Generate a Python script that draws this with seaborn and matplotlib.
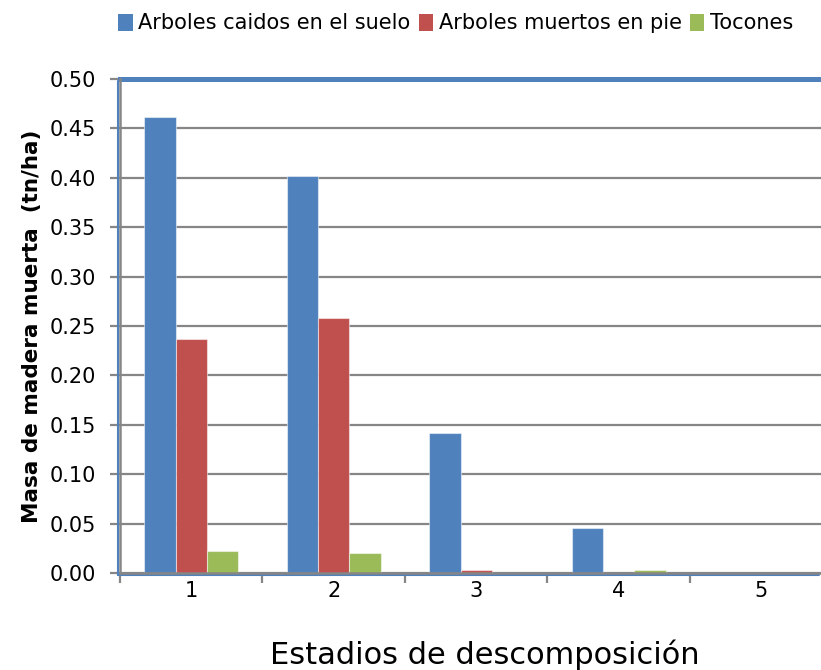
import matplotlib
matplotlib.use("Agg")
import matplotlib.pyplot as plt
import matplotlib.transforms as mtransforms
from matplotlib.patches import Patch
import seaborn as sns
import pandas as pd
import numpy as np

# data
estadios = ["1", "2", "3", "4", "5"]
caidos = [0.462, 0.402, 0.142, 0.046, 0.0]
en_pie = [0.237, 0.258, 0.003, 0.0, 0.0]
tocones = [0.022, 0.020, 0.0, 0.003, 0.0]
series = ["Arboles caidos en el suelo", "Arboles muertos en pie", "Tocones"]
colores = ["#4F81BD", "#C0504D", "#9BBB59"]
yticks = [0.00, 0.05, 0.10, 0.15, 0.20, 0.25, 0.30, 0.35, 0.40, 0.45, 0.50]

df = pd.DataFrame({
    "estadio": estadios * 3,
    "serie": [series[0]] * 5 + [series[1]] * 5 + [series[2]] * 5,
    "masa": caidos + en_pie + tocones,
})

sns.set_style("white")
plt.rcParams["font.family"] = ["DejaVu Sans"]
plt.rcParams["text.color"] = "black"
plt.rcParams["axes.labelcolor"] = "black"
plt.rcParams["xtick.labelcolor"] = "black"
plt.rcParams["ytick.labelcolor"] = "black"

grid_gray = "#868686"
azul = "#4F81BD"

fig = plt.figure(figsize=(8.21, 6.70), dpi=100)
ax = fig.add_axes([120 / 821, 97 / 670, 701 / 821, 494 / 670])

sns.barplot(data=df, x="estadio", y="masa", hue="serie", order=estadios,
            hue_order=series, palette=colores, saturation=1, width=0.66, gap=0,
            edgecolor=(1, 1, 1, 0.5), linewidth=0.8, legend=False, ax=ax,
            zorder=3)

ax.set_yticks(yticks)
ax.set_yticklabels([f"{v:.2f}" for v in yticks], fontsize=15)
ax.yaxis.grid(True, color=grid_gray, linewidth=1.6, zorder=0)
ax.set_axisbelow(True)

# ticks at category boundaries, labels at centres
ax.set_xticks(np.arange(-0.5, 4, 1))
ax.set_xticklabels([])
ax.set_xticks(np.arange(5), minor=True)
ax.set_xticklabels(estadios, minor=True, fontsize=15)
ax.tick_params(axis="x", which="minor", length=0, pad=6)
ax.tick_params(axis="x", which="major", length=7, width=1.6, color=grid_gray,
               direction="out", bottom=True)
ax.tick_params(axis="y", length=7, width=1.6, color=grid_gray,
               direction="out", left=True, pad=10)
ax.set_ylim(0, 0.5)
ax.set_xlim(-0.5, 4.42)

for s in ["left", "bottom"]:
    ax.spines[s].set_color(grid_gray)
    ax.spines[s].set_linewidth(1.8)
    ax.spines[s].set_zorder(5)
ax.spines["right"].set_visible(False)
ax.spines["top"].set_color(azul)
ax.spines["top"].set_linewidth(3.6)

# blue plot-area border just outside the gray axes
off = mtransforms.offset_copy(ax.transAxes, fig=fig, x=-2, y=-2, units="dots")
ax.plot([0, 0], [0, 1], color=azul, lw=1.5, transform=off, clip_on=False, zorder=4)
ax.plot([0, 1], [0, 0], color=azul, lw=1.5, transform=off, clip_on=False, zorder=4)

ax.set_xlabel("Estadios de descomposición", fontsize=22)
ax.xaxis.set_label_coords(0.52, -0.135)
ax.set_ylabel("Masa de madera muerta  (tn/ha)", fontsize=15.5, fontweight="bold",
              labelpad=6)

handles = [Patch(facecolor=c, edgecolor="none") for c in colores]
fig.legend(handles, series, loc="upper center", bbox_to_anchor=(0.555, 1.008),
           ncol=3, frameon=False, fontsize=15, handlelength=0.7,
           handleheight=0.9, handletextpad=0.25, columnspacing=0.4)

plt.savefig("out.png", dpi=100)
plt.close()
